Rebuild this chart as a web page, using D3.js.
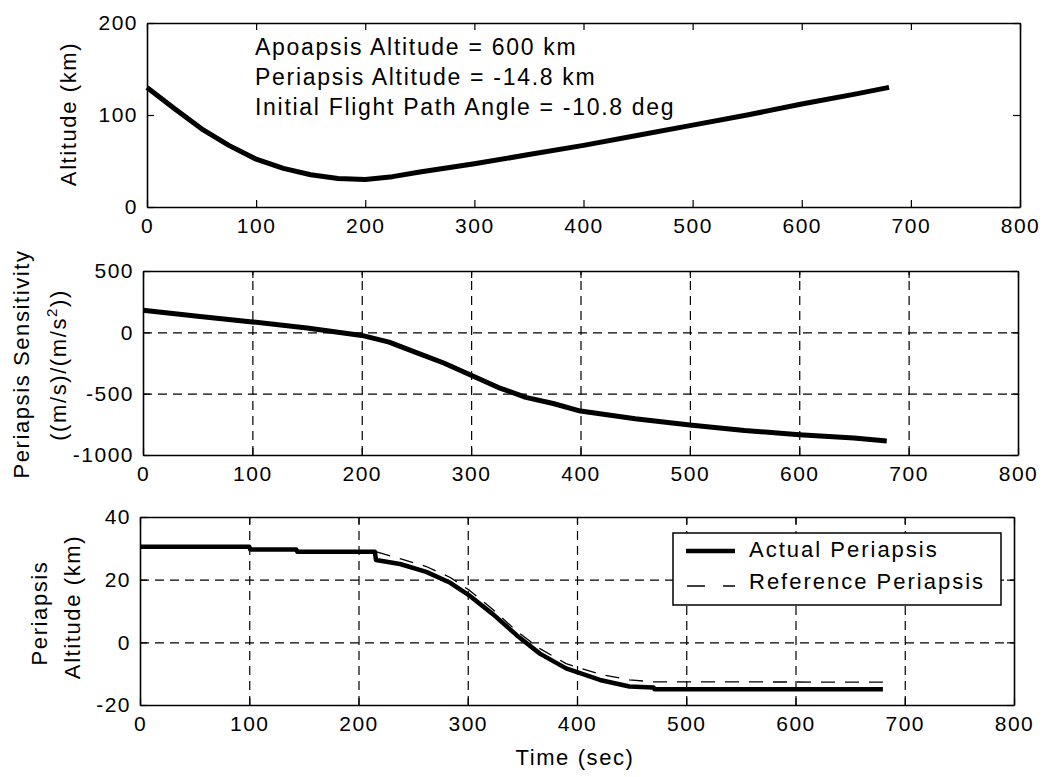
<!DOCTYPE html>
<html>
<head>
<meta charset="utf-8">
<title>Periapsis Altitude Control</title>
<script src="https://cdnjs.cloudflare.com/ajax/libs/d3/7.8.5/d3.min.js"></script>
<style>
    html, body { margin: 0; padding: 0; background: #fff; }
    svg text { font-family: "Liberation Sans", Arial, Helvetica, sans-serif; fill: #000; }
</style>
</head>
<body>
<div id="chart"></div>
<script>

/*
*  Altitude, periapsis sensitivity and periapsis altitude vs time
*/

// tick labels
var timeTicks = [0, 100, 200, 300, 400, 500, 600, 700, 800];
var altTicks = [0, 100, 200];
var sensTicks = [-1000, -500, 0, 500];
var periTicks = [-20, 0, 20, 40];

// top panel : altitude (km)
var altTime = [0, 25, 50, 75, 100, 125, 150, 175, 200, 225, 250, 300, 350, 400, 450, 500, 550, 600, 650, 680];
var altKm   = [130, 107, 85, 67, 52, 42, 35, 31, 30, 33, 38, 47, 57, 67, 78, 89, 100, 112, 123, 130];

// middle panel : periapsis sensitivity ((m/s)/(m/s^2))
var sensTime = [0, 50, 100, 150, 200, 225, 250, 275, 300, 325, 350, 375, 400, 450, 500, 550, 600, 650, 680];
var sensVal  = [180, 132, 85, 35, -25, -80, -165, -250, -350, -450, -530, -580, -642, -705, -755, -800, -835, -862, -885];

// bottom panel : periapsis altitude (km)
var periTime   = [0, 100, 101, 143, 144, 215, 216, 238, 262, 284, 302, 323, 345, 366, 390, 421, 448, 470, 471, 680];
var periActual = [30.5, 30.5, 29.6, 29.6, 28.9, 28.9, 26.3, 25, 22.5, 19, 14.8, 9, 2.2, -3.6, -8.3, -12, -14.1, -14.4, -15, -15];

var refTime = [0, 100, 101, 143, 144, 216, 238, 262, 284, 302, 323, 345, 366, 390, 421, 448, 470, 680];
var refPeri = [30.5, 30.5, 29.6, 29.6, 28.9, 28.9, 26.7, 24.2, 20.7, 16.5, 10.5, 3.5, -2, -6.8, -10.2, -12, -12.6, -12.7];

// texts
var infoLines = [
    "Apoapsis Altitude = 600 km",
    "Periapsis Altitude = -14.8 km",
    "Initial Flight Path Angle = -10.8 deg"
];
var legendLabels = ["Actual Periapsis", "Reference Periapsis"];

(function () {

    "use strict";

    var W = 1047, H = 777,
        TICK = 7,
        FONT_TICK = "21px",
        FONT_LBL = "22px";

    // plain hyphen minus, no thousands comma
    var fmt = function (d) { return String(d); };

    var svg = d3.select("#chart")
        .append("svg")
            .attr("width", W)
            .attr("height", H);

    svg.append("rect")
        .attr("width", W)
        .attr("height", H)
        .attr("fill", "#fff");

    // zip helper
    function pairs(xs, ys) {
        return xs.map(function (t, i) { return [t, ys[i]]; });
    }

    // one MATLAB style subplot
    function subplot(opt) {

        var x = d3.scaleLinear().domain([0, 800]).range([opt.left, opt.right]),
            y = d3.scaleLinear().domain(opt.yDomain).range([opt.bottom, opt.top]),
            w = opt.right - opt.left,
            h = opt.bottom - opt.top,
            g = svg.append("g");

        // dashed grid
        if (opt.grid) {
            g.append("g")
                .attr("transform", "translate(0," + opt.bottom + ")")
                .call(d3.axisBottom(x)
                    .tickValues(timeTicks.slice(1, -1))
                    .tickSize(-h)
                    .tickFormat(""))
                .call(function (s) {
                    s.select(".domain").remove();
                    s.selectAll("line")
                        .attr("stroke", "#000")
                        .attr("stroke-width", 1.2)
                        .attr("stroke-dasharray", "9,6");
                });

            g.append("g")
                .attr("transform", "translate(" + opt.left + ",0)")
                .call(d3.axisLeft(y)
                    .tickValues(opt.yTicks.slice(1, -1))
                    .tickSize(-w)
                    .tickFormat(""))
                .call(function (s) {
                    s.select(".domain").remove();
                    s.selectAll("line")
                        .attr("stroke", "#000")
                        .attr("stroke-width", 1.2)
                        .attr("stroke-dasharray", "9,6");
                });
        }

        function styleAxis(s) {
            s.select(".domain").attr("stroke", "#000").attr("stroke-width", 1.6);
            s.selectAll(".tick line").attr("stroke", "#000").attr("stroke-width", 1.2);
            s.selectAll(".tick text")
                .attr("fill", "#000")
                .style("font-size", FONT_TICK)
                .style("letter-spacing", "1.5px");
        }

        // axes, ticks inside
        g.append("g")
            .attr("transform", "translate(0," + opt.bottom + ")")
            .call(d3.axisBottom(x).tickValues(timeTicks).tickFormat(fmt)
                .tickSize(-TICK).tickPadding(11).tickSizeOuter(0))
            .call(styleAxis);

        g.append("g")
            .attr("transform", "translate(0," + opt.top + ")")
            .call(d3.axisTop(x).tickValues(timeTicks).tickSize(-TICK).tickFormat("").tickSizeOuter(0))
            .call(styleAxis);

        g.append("g")
            .attr("transform", "translate(" + opt.left + ",0)")
            .call(d3.axisLeft(y).tickValues(opt.yTicks).tickFormat(fmt)
                .tickSize(-TICK).tickPadding(9).tickSizeOuter(0))
            .call(styleAxis);

        g.append("g")
            .attr("transform", "translate(" + opt.right + ",0)")
            .call(d3.axisRight(y).tickValues(opt.yTicks).tickSize(-TICK).tickFormat("").tickSizeOuter(0))
            .call(styleAxis);

        // y label(s), rotated
        opt.ylabel.forEach(function (lbl) {
            var t = g.append("text")
                .attr("transform", "translate(" + lbl.x + "," + lbl.y + ") rotate(-90)")
                .attr("text-anchor", "middle")
                .style("font-size", FONT_LBL)
                .style("letter-spacing", "1.6px");
            lbl.parts.forEach(function (p) {
                var ts = t.append("tspan").text(p.text);
                if (p.sup) {
                    ts.attr("dy", -9).style("font-size", "15px");
                } else if (p.down) {
                    ts.attr("dy", 9);
                }
            });
        });

        return { x: x, y: y, g: g };
    }

    function drawLine(p, xs, ys, width, dash) {
        var line = d3.line()
            .x(function (d) { return p.x(d[0]); })
            .y(function (d) { return p.y(d[1]); });

        p.g.append("path")
            .datum(pairs(xs, ys))
            .attr("d", line)
            .attr("fill", "none")
            .attr("stroke", "#000")
            .attr("stroke-width", width)
            .attr("stroke-linejoin", "round")
            .attr("stroke-dasharray", dash || null);
    }

    // -------- top : altitude
    var pAlt = subplot({
        left: 147, right: 1020, top: 23, bottom: 207,
        yDomain: [0, 200], yTicks: altTicks, grid: false,
        ylabel: [{ x: 76, y: 114, parts: [{ text: "Altitude (km)" }] }]
    });
    drawLine(pAlt, altTime, altKm, 5);

    pAlt.g.selectAll(".info")
        .data(infoLines)
        .enter()
        .append("text")
            .attr("class", "info")
            .attr("x", 255)
            .attr("y", function (d, i) { return 55 + i * 30; })
            .style("font-size", "23px")
            .style("letter-spacing", "1.7px")
            .text(function (d) { return d; });

    // -------- middle : sensitivity
    var pSens = subplot({
        left: 143, right: 1018, top: 271, bottom: 455,
        yDomain: [-1000, 500], yTicks: sensTicks, grid: true,
        ylabel: [
            { x: 29, y: 364, parts: [{ text: "Periapsis Sensitivity" }] },
            { x: 66, y: 365, parts: [{ text: "((m/s)/(m/s" }, { text: "2", sup: true }, { text: "))", down: true }] }
        ]
    });
    drawLine(pSens, sensTime, sensVal, 5);

    // -------- bottom : periapsis altitude
    var pPeri = subplot({
        left: 140, right: 1014, top: 517, bottom: 705,
        yDomain: [-20, 40], yTicks: periTicks, grid: true,
        ylabel: [
            { x: 47, y: 613, parts: [{ text: "Periapsis" }] },
            { x: 80, y: 607, parts: [{ text: "Altitude (km)" }] }
        ]
    });
    drawLine(pPeri, refTime, refPeri, 1.3, "14,10");
    drawLine(pPeri, periTime, periActual, 4.5);

    // legend
    var leg = pPeri.g.append("g");
    leg.append("rect")
        .attr("x", 673).attr("y", 533)
        .attr("width", 328).attr("height", 72)
        .attr("fill", "#fff")
        .attr("stroke", "#000")
        .attr("stroke-width", 1.5);

    leg.append("line")
        .attr("x1", 686).attr("x2", 735)
        .attr("y1", 551).attr("y2", 551)
        .attr("stroke", "#000").attr("stroke-width", 4.5);

    leg.append("line")
        .attr("x1", 687).attr("x2", 735)
        .attr("y1", 586).attr("y2", 586)
        .attr("stroke", "#000").attr("stroke-width", 1.3)
        .attr("stroke-dasharray", "18,18");

    leg.selectAll(".leglbl")
        .data(legendLabels)
        .enter()
        .append("text")
            .attr("class", "leglbl")
            .attr("x", 749)
            .attr("y", function (d, i) { return 557 + i * 32; })
            .style("font-size", FONT_LBL)
            .style("letter-spacing", "2px")
            .text(function (d) { return d; });

    // x label
    svg.append("text")
        .attr("x", 575)
        .attr("y", 765)
        .attr("text-anchor", "middle")
        .style("font-size", FONT_LBL)
        .style("letter-spacing", "1.6px")
        .text("Time (sec)");

}());

</script>
</body>
</html>
